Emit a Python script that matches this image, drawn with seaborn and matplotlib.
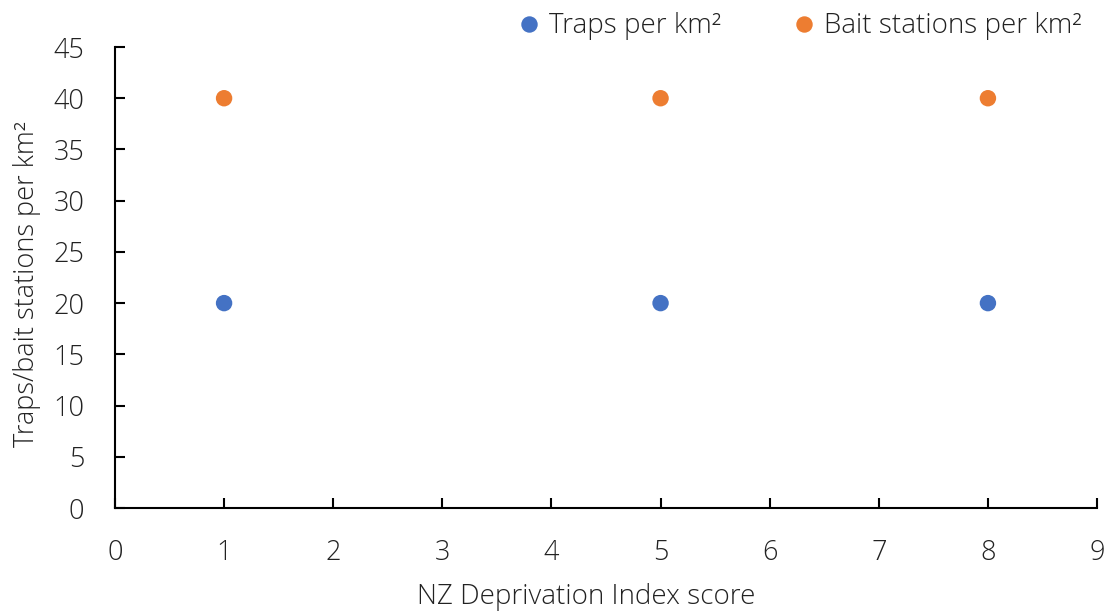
import pandas as pd
import matplotlib
matplotlib.use("Agg")
import matplotlib.pyplot as plt
import seaborn as sns

# values
nzdep_score = [1, 5, 8]
traps_per_km2 = [20, 20, 20]
bait_stations_per_km2 = [40, 40, 40]

series_names = ["Traps per km\u00b2", "Bait stations per km\u00b2"]
series_colours = ["#4472C4", "#ED7D31"]

df = pd.DataFrame({
    "score": nzdep_score * 2,
    "value": traps_per_km2 + bait_stations_per_km2,
    "series": [series_names[0]] * len(nzdep_score) + [series_names[1]] * len(nzdep_score),
})

sns.set_style("white")
plt.rcParams["font.family"] = ["Open Sans", "DejaVu Sans"]
plt.rcParams["font.weight"] = "light"
plt.rcParams["axes.labelweight"] = "light"

fig = plt.figure(figsize=(11.15, 6.16), dpi=100)
ax = fig.add_axes([0.1031, 0.1753, 0.8808, 0.7484])

sns.scatterplot(data=df, x="score", y="value", hue="series",
                palette=dict(zip(series_names, series_colours)),
                s=140, edgecolor="none", ax=ax, zorder=3)

ax.set_xlim(0, 9)
ax.set_ylim(0, 45)
ax.set_xticks(range(0, 10))
ax.set_yticks(range(0, 50, 5))

ax.spines["top"].set_visible(False)
ax.spines["right"].set_visible(False)
for s in ["left", "bottom"]:
    ax.spines[s].set_color("black")
    ax.spines[s].set_linewidth(1.5)

ax.tick_params(axis="both", direction="in", length=7, width=1.5, colors="black",
               labelsize=19.5, labelcolor="#222222", bottom=True, left=True)
ax.tick_params(axis="x", pad=22)
ax.tick_params(axis="y", pad=22)

ax.set_xlabel("NZ Deprivation Index score", fontsize=20, color="#222222")
ax.set_ylabel("Traps/bait stations per km\u00b2", fontsize=19.5, color="#222222")
ax.xaxis.set_label_coords(0.48, -0.163)
ax.yaxis.set_label_coords(-0.075, 0.486)

leg = ax.legend(loc="lower right", bbox_to_anchor=(0.995, 0.99), ncol=2, frameon=False,
                fontsize=20, handlelength=0.8, handletextpad=0.3, columnspacing=2.6,
                markerscale=1.0, borderaxespad=0)
for t in leg.get_texts():
    t.set_color("#222222")

plt.savefig("out.png", dpi=100)
plt.close()
